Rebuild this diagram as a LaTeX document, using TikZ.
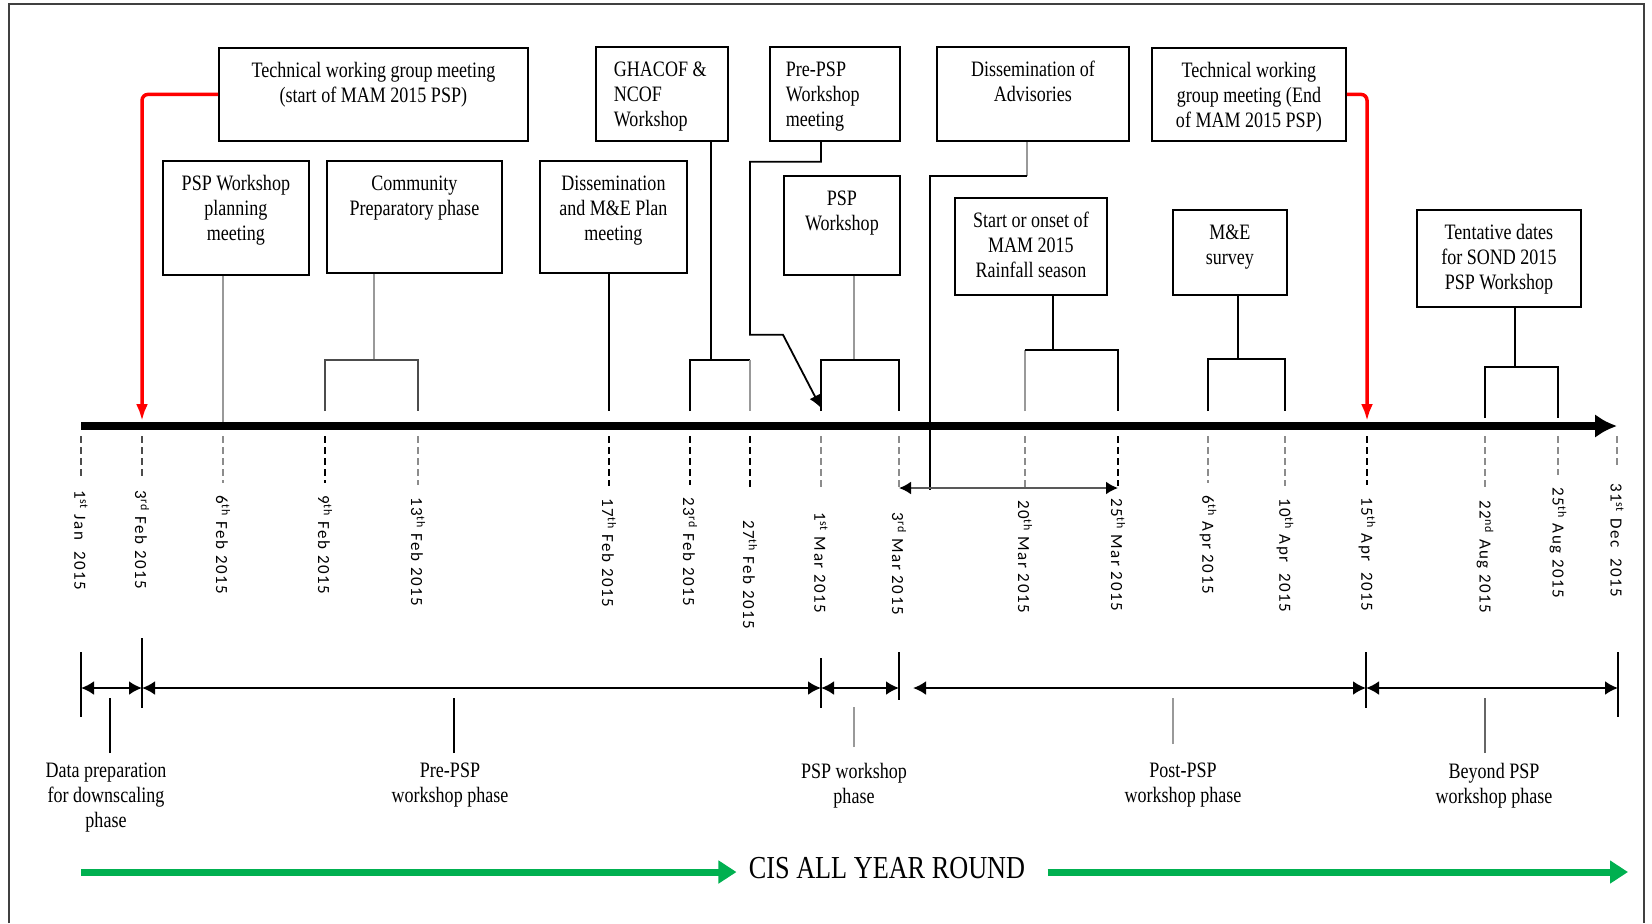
\documentclass[tikz,border=0pt]{standalone}
\usepackage{fontspec}
\setmainfont{Liberation Serif}[FakeStretch=0.82]
\newfontfamily\datefont{Carlito}[LetterSpace=9]
\usepackage{tikz}
\usetikzlibrary{arrows.meta}

\definecolor{cisgreen}{RGB}{0,176,80}

% box text, first line pushed down from the top edge
\newcommand{\evtxt}[3]{\parbox[t][#2][t]{#1}{\centering\rule{0pt}{15pt}#3}}
\newcommand{\evtxtl}[4]{\parbox[t][#2][t]{#1}{\raggedright\leftskip=#4\rule{0pt}{15pt}#3}}

\begin{document}
\begin{tikzpicture}[x=0.5pt, y=-0.5pt,
    evbox/.style={draw, line width=0.9pt, inner sep=0pt, anchor=north west, font=\fontsize{11}{12.5}\selectfont},
    link/.style={line width=0.9pt},
    glink/.style={line width=0.9pt, black!40},
    tick/.style={line width=0.6pt, dash pattern=on 3.5pt off 2pt, shorten >=6pt},
    gtick/.style={tick, black!45},
    date/.style={rotate=-90, anchor=west, inner sep=0pt, font=\datefont\fontsize{8.5}{10}\selectfont},
    timeline/.style={line width=4pt, -{Latex[length=11pt,width=12pt]}},
    redarrow/.style={line width=1.75pt, red, rounded corners=3pt, -{Latex[length=8.5pt,width=6pt]}},
    rain/.style={line width=1pt, black!65, {Latex[length=6pt,width=6.5pt,color=black]}-{Latex[length=6pt,width=6.5pt,color=black]}},
    span/.style={line width=1.2pt, {Latex[length=6.5pt,width=7pt]}-{Latex[length=6.5pt,width=7pt]}},
    bar/.style={line width=0.9pt},
    phaselbl/.style={anchor=north, align=center, inner sep=0pt, font=\fontsize{11}{12.3}\selectfont},
    cisarrow/.style={line width=3.5pt, cisgreen, -{Triangle[length=9pt,width=11pt]}},
    outerframe/.style={line width=1pt, black!75}]
    \useasboundingbox (0,0) rectangle (1652,923);
    \draw[outerframe] (9,923) -- (9,4) -- (1644,4) -- (1644,923);

    % event boxes
    \node[evbox] (twgstart) at (218,47) {\evtxt{154.5pt}{46.5pt}{Technical working group meeting\\(start of MAM 2015 PSP)}};
    \node[evbox] (plan) at (162,160) {\evtxt{73pt}{57pt}{PSP Workshop\\planning\\meeting}};
    \node[evbox] (comm) at (326,160) {\evtxt{87.5pt}{56pt}{Community\\Preparatory phase}};
    \node[evbox] (meplan) at (539,160) {\evtxt{73.5pt}{56pt}{Dissemination\\and M\&E Plan\\meeting}};
    \node[evbox] (ghacof) at (595,46) {\evtxtl{66pt}{47pt}{GHACOF \&\\NCOF\\Workshop}{9pt}};
    \node[evbox] (prews) at (769,46) {\evtxtl{65pt}{47pt}{Pre-PSP\\Workshop\\meeting}{8pt}};
    \node[evbox] (pspws) at (783,175) {\evtxt{58pt}{49.5pt}{PSP\\Workshop}};
    \node[evbox] (advis) at (936,46) {\evtxt{96pt}{47pt}{Dissemination of\\Advisories}};
    \node[evbox] (onset) at (954,197) {\evtxt{76pt}{48.5pt}{Start or onset of\\MAM 2015\\Rainfall season}};
    \node[evbox] (twgend) at (1151,47) {\evtxt{97pt}{46.5pt}{Technical working\\group meeting (End\\of MAM 2015 PSP)}};
    \node[evbox] (mesurv) at (1172,209) {\evtxt{57pt}{42.5pt}{M\&E\\survey}};
    \node[evbox] (sond) at (1416,209) {\evtxt{82pt}{48.5pt}{Tentative dates\\for SOND 2015\\PSP Workshop}};

    % dates on the time line
    \coordinate (jan01) at (81,426);
    \coordinate (feb03) at (142,426);
    \coordinate (feb06) at (223,426);
    \coordinate (feb09) at (325,426);
    \coordinate (feb13) at (418,426);
    \coordinate (feb17) at (609,426);
    \coordinate (feb23) at (690,426);
    \coordinate (feb27) at (750,426);
    \coordinate (mar01) at (821,426);
    \coordinate (mar03) at (899,426);
    \coordinate (mar20) at (1025,426);
    \coordinate (mar25) at (1118,426);
    \coordinate (apr06) at (1208,426);
    \coordinate (apr10) at (1285,426);
    \coordinate (apr15) at (1367,426);
    \coordinate (aug22) at (1485,426);
    \coordinate (aug25) at (1558,426);
    \coordinate (dec31) at (1617,426);

    \draw[timeline] (jan01) -- (dec31);

    \node[date] (ljan01) at (81,490) {1\textsuperscript{st} Jan~~2015};
    \node[date] (lfeb03) at (142,490) {3\textsuperscript{rd} Feb 2015};
    \node[date] (lfeb06) at (223,495) {6\textsuperscript{th} Feb 2015};
    \node[date] (lfeb09) at (325,495) {9\textsuperscript{th} Feb 2015};
    \node[date] (lfeb13) at (418,497) {13\textsuperscript{th} Feb 2015};
    \node[date] (lfeb17) at (609,498) {17\textsuperscript{th} Feb 2015};
    \node[date] (lfeb23) at (690,497) {23\textsuperscript{rd} Feb 2015};
    \node[date] (lfeb27) at (750,520) {27\textsuperscript{th} Feb 2015};
    \node[date] (lmar01) at (821,512) {1\textsuperscript{st} Mar 2015};
    \node[date] (lmar03) at (899,512) {3\textsuperscript{rd} Mar 2015};
    \node[date] (lmar20) at (1025,500) {20\textsuperscript{th} Mar 2015};
    \node[date] (lmar25) at (1118,498) {25\textsuperscript{th} Mar 2015};
    \node[date] (lapr06) at (1208,495) {6\textsuperscript{th} Apr 2015};
    \node[date] (lapr10) at (1285,498) {10\textsuperscript{th} Apr~~2015};
    \node[date] (lapr15) at (1367,497) {15\textsuperscript{th} Apr~~2015};
    \node[date] (laug22) at (1485,500) {22\textsuperscript{nd} Aug 2015};
    \node[date] (laug25) at (1558,487) {25\textsuperscript{th} Aug 2015};
    \node[date] (ldec31) at (1617,483) {31\textsuperscript{st} Dec~~2015};

    \draw[gtick, black!70] ([yshift=-5pt]jan01) -- (ljan01);
    \draw[gtick, black!70] ([yshift=-5pt]feb03) -- (lfeb03);
    \draw[gtick] ([yshift=-5pt]feb06) -- (lfeb06);
    \draw[tick] ([yshift=-5pt]feb09) -- (lfeb09);
    \draw[gtick] ([yshift=-5pt]feb13) -- (lfeb13);
    \draw[tick] ([yshift=-5pt]feb17) -- (lfeb17);
    \draw[tick] ([yshift=-5pt]feb23) -- (lfeb23);
    \draw[tick, shorten >=16pt] ([yshift=-5pt]feb27) -- (lfeb27);
    \draw[gtick, shorten >=12.5pt] ([yshift=-5pt]mar01) -- (lmar01);
    \draw[gtick, shorten >=12.5pt] ([yshift=-5pt]mar03) -- (lmar03);
    \draw[gtick] ([yshift=-5pt]mar20) -- (lmar20);
    \draw[tick] ([yshift=-5pt]mar25) -- (lmar25);
    \draw[gtick] ([yshift=-5pt]apr06) -- (lapr06);
    \draw[gtick] ([yshift=-5pt]apr10) -- (lapr10);
    \draw[tick] ([yshift=-5pt]apr15) -- (lapr15);
    \draw[gtick] ([yshift=-5pt]aug22) -- (laug22);
    \draw[gtick] ([yshift=-5pt]aug25) -- (laug25);
    \draw[gtick, shorten >=9pt] ([yshift=-5pt]dec31) -- (ldec31);

    % red markers: start and end of the PSP
    \draw[redarrow] (twgstart.west) -| ([yshift=2.5pt]feb03);
    \draw[redarrow] (twgend.east) -| ([yshift=2.5pt]apr15);

    % links from the boxes down to the dates
    \draw[glink] (plan.south -| feb06) -- ([yshift=2pt]feb06);
    \draw[glink] (comm.south west) ++(48,0) -- ++(0,86) coordinate (commb);
    \draw[link, black!70] ([yshift=7.5pt]feb09) |- (commb) -| ([yshift=7.5pt]feb13);
    \draw[link] (meplan.south -| feb17) -- ([yshift=7.5pt]feb17);
    \draw[link] (ghacof.south west) ++(116,0) -- ++(0,218) coordinate (ghacofb);
    \draw[link] ([yshift=7.5pt]feb23) |- (ghacofb) -| (feb27 |- ghacofb);
    \draw[glink] (feb27 |- ghacofb) -- ([yshift=7.5pt]feb27);
    \draw[link, -{Latex[length=6.5pt,width=6pt]}] (prews.south west) ++(52,0) -- ++(0,20) -- ++(-71,0) -- ++(0,173) -- ++(33,0) -- ([yshift=9pt]mar01);
    \draw[glink] (pspws.south west) ++(71,0) -- ++(0,84) coordinate (pspwsb);
    \draw[link] ([yshift=7.5pt]mar01) |- (pspwsb) -| ([yshift=7.5pt]mar03);
    \draw[glink] (advis.south west) ++(91,0) -- ++(0,34) coordinate (advisb);
    \draw[link] (advisb) -- ++(-97,0) -- ++(0,314);
    \draw[rain] ([yshift=-31pt]mar03) -- ([yshift=-31pt]mar25);
    \draw[link] (onset.south west) ++(99,0) -- ++(0,54) coordinate (onsetb);
    \draw[glink] ([yshift=7.5pt]mar20) -- (mar20 |- onsetb);
    \draw[link] (mar20 |- onsetb) -| ([yshift=7.5pt]mar25);
    \draw[link] (mesurv.south west) ++(66,0) -- ++(0,63) coordinate (mesurvb);
    \draw[link] ([yshift=7.5pt]apr06) |- (mesurvb) -| ([yshift=7.5pt]apr10);
    \draw[link] (sond.south west) ++(99,0) -- ++(0,59) coordinate (sondb);
    \draw[link] ([yshift=4pt]aug22) |- (sondb) -| ([yshift=4pt]aug25);

    % phases
    \coordinate (pa) at (81,688);
    \coordinate (pb) at (142,688);
    \coordinate (pc) at (821,688);
    \coordinate (pd) at (899,688);
    \coordinate (pe) at (1366,688);
    \coordinate (pf) at (1618,688);

    \draw[bar] ([yshift=18pt]pa) -- ([yshift=-14.5pt]pa);
    \draw[bar] ([yshift=25pt]pb) -- ([yshift=-10pt]pb);
    \draw[bar] ([yshift=15pt]pc) -- ([yshift=-10pt]pc);
    \draw[bar] ([yshift=18pt]pd) -- ([yshift=-6pt]pd);
    \draw[bar] ([yshift=18pt]pe) -- ([yshift=-10pt]pe);
    \draw[bar] ([yshift=18pt]pf) -- ([yshift=-14.5pt]pf);

    \draw[span] (pa) -- (pb);
    \draw[span] (pb) -- (pc);
    \draw[span] (pc) -- (pd);
    \draw[span] ([xshift=7pt]pd) -- (pe);
    \draw[span] (pe) -- (pf);

    \node[phaselbl] (dataph) at (106,763) {Data preparation\\for downscaling\\phase};
    \node[phaselbl] (preph) at (450,763) {Pre-PSP\\workshop phase};
    \node[phaselbl] (pspph) at (854,763) {PSP workshop\\phase};
    \node[phaselbl] (postph) at (1183,763) {Post-PSP\\workshop phase};
    \node[phaselbl] (beyondph) at (1494,763) {Beyond PSP\\workshop phase};

    \draw[link] ([xshift=2pt,yshift=5pt]dataph.north) -- ++(0,-55);
    \draw[link] ([xshift=2pt,yshift=5pt]preph.north) -- ++(0,-55);
    \draw[glink] ([yshift=8pt]pspph.north) -- ++(0,-40);
    \draw[glink] ([xshift=-5pt,yshift=9.5pt]postph.north) -- ++(0,-46);
    \draw[link, black!60] ([xshift=-4.5pt,yshift=5pt]beyondph.north) -- ++(0,-55);

    % all year round
    \node[inner sep=0pt, font=\fontsize{16}{18}\selectfont] (cis) at (887,868) {CIS ALL YEAR ROUND};
    \coordinate (cisL) at (81,872);
    \coordinate (cisR) at (1628,872);
    \draw[cisarrow, shorten >=6pt] (cisL) -- (cisL -| cis.west);
    \draw[cisarrow, shorten <=11pt] (cisR -| cis.east) -- (cisR);
\end{tikzpicture}
\end{document}
